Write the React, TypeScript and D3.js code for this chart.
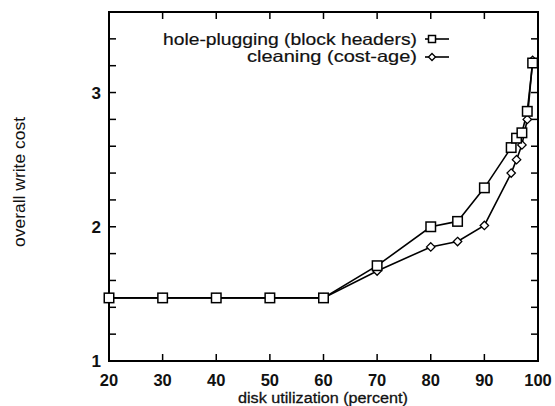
import React from "react";
import * as d3 from "d3";

const utilization = [20, 30, 40, 50, 60, 70, 80, 85, 90, 95, 96, 97, 98, 99];
const holePlugging = [1.47, 1.47, 1.47, 1.47, 1.47, 1.71, 2.0, 2.04, 2.29, 2.59, 2.66, 2.7, 2.86, 3.22];
const cleaning = [1.47, 1.47, 1.47, 1.47, 1.47, 1.67, 1.85, 1.89, 2.01, 2.4, 2.5, 2.61, 2.8, 3.24];
const xTicks = [20, 30, 40, 50, 60, 70, 80, 90, 100];
const yTicks = [1, 2, 3];
const yMinorTicks = [1.2, 1.4, 1.6, 1.8, 2.2, 2.4, 2.6, 2.8, 3.2, 3.4];
const seriesNames = ["hole-plugging (block headers)", "cleaning (cost-age)"];

const W = 555, H = 406;
const left = 109, right = 538, top = 12, bottom = 361;
const font = "'Liberation Sans', Arial, Helvetica, sans-serif";

export default function App() {
  const x = d3.scaleLinear().domain([20, 100]).range([left, right]);
  const y = d3.scaleLinear().domain([1, 3.6]).range([bottom, top]);
  const line = d3.line<[number, number]>().x(d => x(d[0])).y(d => y(d[1]));
  const hp: [number, number][] = utilization.map((u, i) => [u, holePlugging[i]]);
  const cl: [number, number][] = utilization.map((u, i) => [u, cleaning[i]]);
  const square = (cx: number, cy: number, k: string, sq = 9.5) => (
    <rect key={k} x={cx - sq / 2} y={cy - sq / 2} width={sq} height={sq} fill="white" stroke="black" strokeWidth={1.5} />
  );
  const diamond = (cx: number, cy: number, k: string, dm = 4.2) => (
    <path key={k} d={`M${cx},${cy - dm}L${cx + dm},${cy}L${cx},${cy + dm}L${cx - dm},${cy}Z`} fill="white" stroke="black" strokeWidth={1.3} />
  );
  const legendX = 417;
  const legendY = [39, 57];
  const legendBase = [45, 62];
  const legendLen = [254, 170];
  return (
    <svg width={W} height={H} style={{ position: "absolute", left: 0, top: 0, background: "white" }}>
      <rect x={0} y={0} width={W} height={H} fill="white" />
      {xTicks.slice(1, -1).map(t => (
        <g key={"xt" + t}>
          <line x1={x(t)} x2={x(t)} y1={bottom} y2={bottom - 7} stroke="black" strokeWidth={1.5} />
          <line x1={x(t)} x2={x(t)} y1={top} y2={top + 7} stroke="black" strokeWidth={1.5} />
        </g>
      ))}
      {[...yTicks, ...yMinorTicks].filter(t => t > 1).map(t => (
        <g key={"yt" + t}>
          <line x1={left} x2={left + 7} y1={y(t)} y2={y(t)} stroke="black" strokeWidth={1.5} />
          <line x1={right} x2={right - 7} y1={y(t)} y2={y(t)} stroke="black" strokeWidth={1.5} />
        </g>
      ))}
      <rect x={left} y={top} width={right - left} height={bottom - top} fill="none" stroke="black" strokeWidth={2} />
      {xTicks.map(t => (
        <text key={"xl" + t} x={x(t)} y={386} textAnchor="middle" fontFamily={font} fontSize={16.5} fontWeight="bold" fill="#111">{t}</text>
      ))}
      {yTicks.map(t => (
        <text key={"yl" + t} x={101} y={y(t) + 6} textAnchor="end" fontFamily={font} fontSize={17} fontWeight="bold" fill="#111">{t}</text>
      ))}
      <text x={238} y={403} fontFamily={font} fontSize={15.5} fill="#111" stroke="#111" strokeWidth={0.3} textLength={170} lengthAdjust="spacingAndGlyphs">disk utilization (percent)</text>
      <text transform={`translate(25,182) rotate(-90)`} x={-65} y={0} fontFamily={font} fontSize={16.5} fill="#111" textLength={130} lengthAdjust="spacingAndGlyphs">overall write cost</text>
      <path d={line(hp) || ""} fill="none" stroke="black" strokeWidth={1.6} />
      <path d={line(cl) || ""} fill="none" stroke="black" strokeWidth={1.6} />
      {cl.map((d, i) => diamond(x(d[0]), y(d[1]), "c" + i))}
      {hp.map((d, i) => square(x(d[0]), y(d[1]), "h" + i))}
      {seriesNames.map((n, i) => (
        <g key={"lg" + i}>
          <text x={legendX - legendLen[i]} y={legendBase[i]} fontFamily={font} fontSize={16.5} fill="#111" stroke="#111" strokeWidth={0.2} textLength={legendLen[i]} lengthAdjust="spacingAndGlyphs">{n}</text>
          <line x1={legendX + 8} x2={legendX + 32} y1={legendY[i]} y2={legendY[i]} stroke="black" strokeWidth={1.6} />
          {i === 0 ? square(legendX + 15, legendY[i], "ls", 7) : diamond(legendX + 15, legendY[i], "ld", 3.5)}
        </g>
      ))}
    </svg>
  );
}
